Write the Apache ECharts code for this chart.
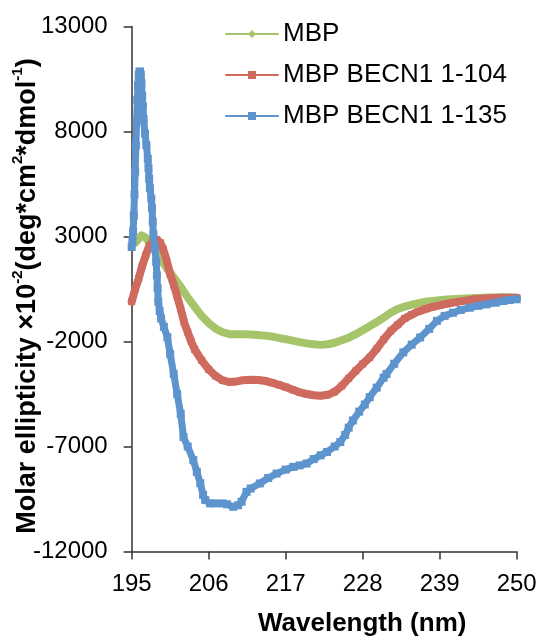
<!DOCTYPE html>
<html>
<head>
<meta charset="utf-8">
<script src="https://cdn.jsdelivr.net/npm/echarts@6/dist/echarts.min.js"></script>
<style>html,body{margin:0;padding:0;background:#fff}#c{width:541px;height:641px}</style>
</head>
<body>
<div id="c"></div>
<script>
// Series names
const seriesNames = ["MBP", "MBP BECN1 1-104", "MBP BECN1 1-135"];
// Axis ticks
const xTicks = [195, 206, 217, 228, 239, 250];
const yTicks = [-12000, -7000, -2000, 3000, 8000, 13000];

// MBP: [wavelength nm, molar ellipticity]
const mbp = [
  [195.5, 2700], [196.4, 3050], [197, 2950], [198, 2500], [199, 2000], [200, 1500],
  [201, 1050], [202, 600], [203, 100], [204, -350], [205, -780], [206, -1120],
  [207, -1390], [208, -1560], [209, -1650], [210, -1660], [211, -1660], [212, -1670],
  [213, -1690], [214, -1720], [215, -1760], [216, -1830], [217, -1890], [218, -1960],
  [219, -2030], [220, -2090], [221, -2130], [222, -2160], [223, -2130], [224, -2060],
  [225, -1940], [226, -1820], [227, -1650], [228, -1460], [229, -1270], [230, -1070],
  [231, -860], [232, -630], [233, -450], [234, -340], [235, -250], [236, -170],
  [237, -110], [238, -70], [239, -30], [240, 0], [242, 40], [244, 70], [246, 90],
  [248, 110], [250, 85]
];

// MBP BECN1 1-104
const becn104 = [
  [195, -100], [195.5, 500], [196, 1000], [196.5, 1600], [197, 2100], [197.5, 2550],
  [198, 2750], [198.6, 2850], [199.1, 2700], [199.5, 2400], [200, 1850], [200.5, 1200],
  [201, 700], [201.5, 150], [202, -450], [202.5, -1100], [203, -1550], [203.5, -2000],
  [204, -2380], [205, -2900], [206, -3330], [207, -3650], [208, -3850], [209, -3930],
  [210, -3900], [211, -3840], [212, -3820], [213, -3830], [214, -3870], [215, -3960],
  [216, -4060], [217, -4170], [218, -4300], [219, -4420], [220, -4500], [221, -4560],
  [222, -4580], [223, -4540], [224, -4400], [225, -4120], [226, -3750], [227, -3400],
  [228, -3070], [229, -2760], [230, -2350], [231, -1900], [232, -1500], [233, -1200],
  [234, -900], [235, -720], [236, -570], [237, -450], [238, -350], [239, -280],
  [240, -200], [242, -90], [244, 10], [246, 60], [248, 85], [250, 85]
];

// MBP BECN1 1-135
const becn135 = [
  [195.0, 2500], [195.1, 2800], [195.2, 3250], [195.3, 4000], [195.4, 5000], [195.5, 6100],
  [195.6, 7350], [195.7, 8450], [195.8, 9500], [195.9, 10200], [196.0, 10700], [196.1, 10850],
  [196.2, 10850], [196.3, 10700], [196.4, 10300], [196.5, 9700], [196.6, 9200], [196.7, 8600],
  [196.9, 7900], [197.1, 7350], [197.3, 6700], [197.4, 6250], [197.5, 5750], [197.6, 5300],
  [197.8, 4800], [197.9, 4350], [198.0, 3700], [198.1, 3100], [198.3, 2450], [198.5, 1800],
  [198.6, 1150], [198.7, 550], [198.8, -100], [199.0, -550], [199.2, -900], [199.6, -1300],
  [200.1, -1800], [200.5, -2600], [201.0, -3550], [201.5, -4500], [202.0, -5450], [202.4, -6550],
  [203.0, -7000], [203.8, -7650], [204.3, -8200], [204.8, -8750], [205.2, -9300], [205.5, -9550],
  [206.2, -9710], [207, -9710], [208, -9710], [208.6, -9750], [209.5, -9870], [210.2, -9800],
  [210.7, -9630], [211.4, -9160], [212, -9000], [213.3, -8760], [214.5, -8500], [215.7, -8290],
  [217, -8100], [218.1, -7970], [219, -7900], [220, -7810], [221, -7600], [222, -7420],
  [222.9, -7260], [224, -7000], [224.8, -6790], [225.5, -6450], [226, -6100], [226.6, -5760],
  [227.5, -5340], [228.3, -5000], [229, -4650], [230, -4200], [231, -3720], [231.4, -3550],
  [232.5, -3060], [233.8, -2520], [235, -2150], [236.2, -1810], [237.5, -1400], [238.6, -1020],
  [239.7, -780], [240.9, -630], [242, -500], [243.3, -390], [244.5, -300], [245.7, -230],
  [247, -150], [248.1, -70], [249, -20], [250, 10]
];

const colors = ["#A6C46A", "#CF6A5E", "#5D94CE"];
const axisColor = "#333";
const fontFam = "'Liberation Sans', Arial, sans-serif";

const chart = echarts.init(document.getElementById('c'), null, {renderer: 'canvas'});
chart.setOption({
  animation: false,
  backgroundColor: '#fff',
  grid: {left: 131.7, right: 24.3, top: 26.5, bottom: 89.5, containLabel: false, outerBoundsMode: 'none'},
  legend: {
    orient: 'vertical',
    left: 220, top: 16,
    itemWidth: 52, itemHeight: 10, itemGap: 15,
    textStyle: {fontFamily: fontFam, fontSize: 26, color: '#000', lineHeight: 26},
    lineStyle: {width: 2},
    data: seriesNames
  },
  xAxis: {
    type: 'value', min: xTicks[0], max: xTicks[xTicks.length - 1], interval: xTicks[1] - xTicks[0],
    name: 'Wavelength (nm)', nameLocation: 'middle', nameGap: 59, nameMoveOverlap: false,
    nameTextStyle: {fontFamily: fontFam, fontSize: 26, fontWeight: 'bold', color: '#000', padding: [0, 0, 0, 76]},
    axisLine: {show: true, onZero: false, lineStyle: {color: axisColor, width: 1.5}},
    axisTick: {show: true, inside: false, length: 8, lineStyle: {color: axisColor, width: 1.5}},
    axisLabel: {fontFamily: fontFam, fontSize: 24, color: '#000', margin: 21, formatter: v => String(v)},
    splitLine: {show: false}
  },
  yAxis: {
    type: 'value', min: yTicks[0], max: yTicks[yTicks.length - 1], interval: yTicks[1] - yTicks[0],
    name: '{t|Molar ellipticity ×10}{s|-2}{t|(deg*cm}{s|2}{t|*dmol}{s|-1}{t|)}',
    nameLocation: 'middle', nameGap: 91, nameRotate: 90, nameMoveOverlap: false,
    nameTextStyle: {
      padding: [0, 14, 0, 0],
      rich: {
        t: {fontFamily: fontFam, fontSize: 27, fontWeight: 'bold', color: '#000', lineHeight: 30, verticalAlign: 'bottom'},
        s: {fontFamily: fontFam, fontSize: 15, fontWeight: 'bold', color: '#000', lineHeight: 30, verticalAlign: 'top'}
      }
    },
    axisLine: {show: true, onZero: false, lineStyle: {color: axisColor, width: 1.5}},
    axisTick: {show: true, inside: false, length: 8, lineStyle: {color: axisColor, width: 1.5}},
    axisLabel: {fontFamily: fontFam, fontSize: 24, color: '#000', margin: 24, formatter: v => String(v)},
    splitLine: {show: false}
  },
  series: [
    {name: seriesNames[0], type: 'line', data: mbp, color: colors[0], symbol: 'diamond', symbolSize: 6, showSymbol: true,
     lineStyle: {width: 8, cap: 'round', join: 'round'}, z: 2},
    {name: seriesNames[1], type: 'line', data: becn104, color: colors[1], symbol: 'rect', symbolSize: 7, showSymbol: true,
     lineStyle: {width: 8, cap: 'round', join: 'round'}, z: 3},
    {name: seriesNames[2], type: 'line', data: becn135, color: colors[2], symbol: 'rect', symbolSize: 8, showSymbol: true,
     lineStyle: {width: 7, cap: 'round', join: 'round'}, z: 4}
  ]
});
</script>
</body>
</html>
